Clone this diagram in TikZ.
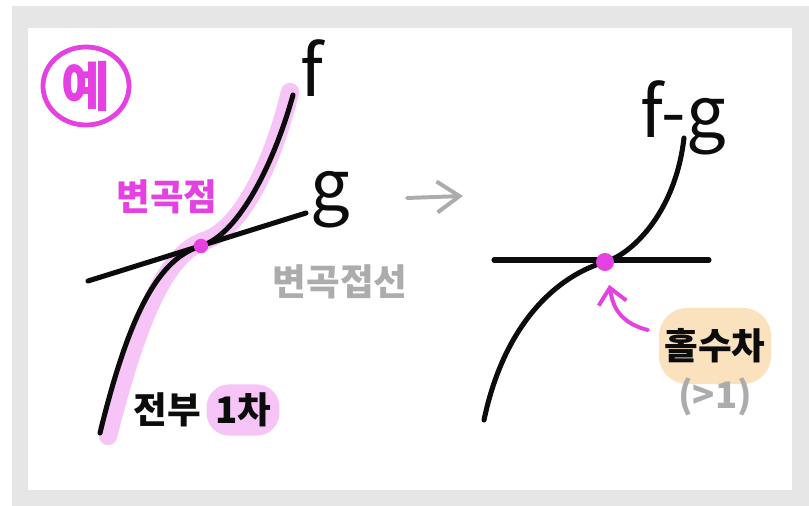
\documentclass[tikz,border=0pt]{standalone}
\usepackage{fontspec}
\newfontfamily\kor{Noto Sans CJK KR}
\usetikzlibrary{arrows.meta,positioning,shapes.geometric}
\definecolor{ink}{RGB}{12,12,12}
\definecolor{frame}{RGB}{230,230,230}
\definecolor{mag}{RGB}{228,64,226}
\definecolor{maglight}{RGB}{246,196,246}
\definecolor{peach}{RGB}{251,226,190}
\definecolor{soft}{RGB}{172,172,172}
\tikzset{
  every picture/.style={x=0.025cm, y=-0.025cm, line cap=round, line join=round},
  pen/.style={draw=ink, line width=3.6pt},
  hilite/.style={draw=maglight, line width=13pt},
  ipdot/.style={circle, fill=mag, inner sep=0pt, minimum size=0.36cm},
  word/.style={font=\kor\bfseries\fontsize{26}{30}\selectfont, text=ink, inner sep=1pt},
  pinkword/.style={word, text=mag},
  greyword/.style={word, text=soft},
  fun/.style={font=\kor\fontsize{50}{54}\selectfont, text=ink, inner sep=0pt},
  badge/.style={ellipse, draw=mag, line width=3.4pt, minimum width=2.15cm, minimum height=1.95cm,
    font=\kor\bfseries\fontsize{38}{40}\selectfont, text=mag, inner sep=0pt},
  hint/.style={-{Straight Barb[length=16pt,width=22pt]}, line width=2.8pt, color=soft},
  poke/.style={-{Straight Barb[length=11pt,width=20pt]}, line width=2.8pt, color=mag, shorten >=10pt},
}

\begin{document}
\begin{tikzpicture}
  % Left: f crosses its tangent g at the inflection; right: f-g crosses zero there.
  \useasboundingbox (0,0) rectangle (809,506);
  \fill[frame] (12,6) rectangle (809,506);
  \fill[white] (28,28) rectangle (792,490);
  \node[badge] (ex) at (86,86) {예};
  \draw[hilite] (108,436) .. controls (138,318) and (166,254) .. (204,241) .. controls (242,229) and (273,162) .. (290,92);
  \draw[pen] (88,281) -- (306,213);
  \draw[pen] (100,433) .. controls (130,310) and (160,258) .. (201,246) .. controls (240,234) and (275,160) .. (293,95);
  \node[ipdot] (ipL) at (201,246) {};
  \node[fun] (f) at (312,68) {f};
  \node[fun] (g) at (330,200) {g};
  \node[pinkword] (ip) at (167,197) {변곡점};
  \node[greyword] (tan) at (340,282) {변곡접선};
  \node[word] (all) at (167,410) {전부};
  \node[word, fill=maglight, rounded corners=16pt, inner sep=6pt, right=1mm of all] (deg1) {1차};
  \coordinate (from) at (407,198);
  \coordinate (to) at (463,196);
  \draw[hint] (from) -- (to);
  \draw[pen] (494,260) -- (709,260);
  \draw[pen] (484,420) .. controls (505,320) and (560,275) .. (605,262) .. controls (630,255) and (675,215) .. (684,138);
  \node[ipdot, minimum size=0.45cm] (ipR) at (605,262) {};
  \node[fun] (fg) at (683,118) {f-g};
  \node[word, fill=peach, rounded corners=20pt, minimum height=1.9cm, inner sep=4pt] (odd) at (715,346) {홀수차};
  \node[greyword, below=-2mm of odd] (gt) {(>1)};
  \coordinate (tail) at (648,330);
  \draw[poke] (tail) .. controls (615,322) and (612,300) .. (ipR);
\end{tikzpicture}
\end{document}
